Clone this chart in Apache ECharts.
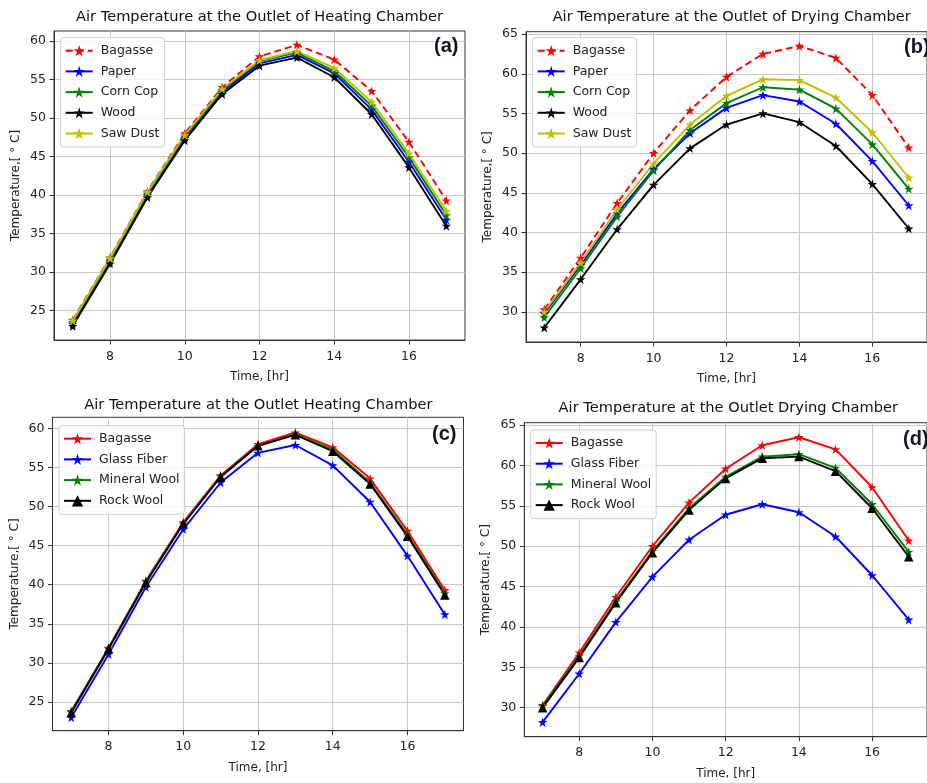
<!DOCTYPE html>
<html>
<head>
<meta charset="utf-8">
<script src="https://cdn.jsdelivr.net/npm/echarts@6/dist/echarts.min.js"></script>
<style>
html,body{margin:0;padding:0;background:#fff;}
#main{width:927px;height:783px;}
</style>
</head>
<body>
<div id="main"></div>
<script>
// ---------- DATA ----------
const hours = [7, 8, 9, 10, 11, 12, 13, 14, 15, 16, 17];
const xTicks = [8, 10, 12, 14, 16];
const yTicksA = [25, 30, 35, 40, 45, 50, 55, 60];
const yTicksB = [30, 35, 40, 45, 50, 55, 60, 65];

// (a) heating chamber, drying materials
const aBagasse = [23.8, 31.9, 40.5, 48.0, 54.0, 58.0, 59.5, 57.6, 53.5, 46.9, 39.3];
const aPaper   = [23.3, 31.4, 40.0, 47.4, 53.4, 57.1, 58.2, 55.8, 51.1, 44.3, 36.8];
const aCornCop = [23.5, 31.6, 40.2, 47.6, 53.6, 57.4, 58.5, 56.1, 51.6, 44.9, 37.4];
const aWood    = [23.0, 31.1, 39.7, 47.1, 53.1, 56.8, 57.85, 55.3, 50.5, 43.6, 36.0];
const aSawDust = [23.7, 31.8, 40.4, 47.8, 53.8, 57.5, 58.7, 56.5, 52.1, 45.4, 37.9];

// (b) drying chamber, drying materials
const bBagasse = [30.3, 36.8, 43.7, 50.0, 55.4, 59.6, 62.5, 63.5, 62.0, 57.3, 50.7];
const bPaper   = [29.8, 35.9, 42.4, 48.0, 52.5, 55.7, 57.3, 56.5, 53.7, 49.0, 43.4];
const bCornCop = [29.3, 35.5, 42.0, 47.8, 52.9, 56.3, 58.3, 58.0, 55.6, 51.1, 45.5];
const bWood    = [28.0, 34.1, 40.4, 46.0, 50.6, 53.6, 55.0, 53.9, 50.9, 46.1, 40.5];
const bSawDust = [30.0, 36.2, 42.9, 48.7, 53.6, 57.2, 59.3, 59.2, 57.0, 52.6, 46.9];

// (c) heating chamber, insulation materials
const cBagasse    = [23.8, 31.9, 40.5, 48.0, 54.0, 58.0, 59.5, 57.6, 53.6, 46.9, 39.3];
const cGlassFiber = [23.0, 31.1, 39.7, 47.1, 53.1, 56.9, 57.9, 55.3, 50.6, 43.7, 36.2];
const cMineral    = [23.7, 31.8, 40.4, 47.8, 53.9, 57.8, 59.3, 57.3, 53.1, 46.4, 38.9];
const cRockWool   = [23.6, 31.8, 40.3, 47.8, 53.8, 57.8, 59.2, 57.1, 52.9, 46.2, 38.7];

// (d) drying chamber, insulation materials
const dBagasse    = [30.3, 36.8, 43.7, 50.0, 55.4, 59.6, 62.5, 63.5, 62.0, 57.3, 50.7];
const dGlassFiber = [28.2, 34.2, 40.6, 46.2, 50.8, 53.9, 55.2, 54.2, 51.2, 46.4, 40.9];
const dMineral    = [30.2, 36.4, 43.2, 49.4, 54.7, 58.6, 61.1, 61.4, 59.7, 55.2, 49.3];
const dRockWool   = [30.0, 36.2, 43.0, 49.2, 54.5, 58.4, 60.9, 61.1, 59.3, 54.7, 48.7];

const titles = [
  'Air Temperature at the Outlet of Heating Chamber',
  'Air Temperature at the Outlet of Drying Chamber',
  'Air Temperature at the Outlet Heating Chamber',
  'Air Temperature at the Outlet Drying Chamber'
];
const panelTags = ['(a)', '(b)', '(c)', '(d)'];

// ---------- STYLE / LAYOUT ----------
const FONT = 'DejaVu Sans';
const STAR = 'path://M50,0 L61.2,34.5 L97.6,34.5 L68.2,55.9 L79.4,90.5 L50,69.1 L20.6,90.5 L31.8,55.9 L2.4,34.5 L38.8,34.5 Z';
const C = {red:'#ff0000', blue:'#0000ff', green:'#008000', black:'#000000', yellow:'#bfbf00'};

const grids = [
  {left: 54, top: 31, width: 411, height: 309},
  {left: 526, top: 31.7, width: 411, height: 310.3},
  {left: 52.5, top: 417.3, width: 411, height: 313.4},
  {left: 524.3, top: 422.7, width: 409, height: 314}
];
const yRanges = [[21.2, 61.3], [26.2, 65.3], [21.3, 61.45], [26.4, 65.3]];
const yTickSets = [yTicksA, yTicksB, yTicksA, yTicksB];

function pairs(vals) { return hours.map((h, i) => [h, vals[i]]); }

const xAxes = grids.map((g, i) => ({
  type: 'value', gridIndex: i, min: 6.5, max: 17.5,
  name: 'Time, [hr]', nameLocation: 'middle', nameGap: 31,
  nameTextStyle: {fontFamily: FONT, fontSize: 12, color: '#222'},
  axisLine: {show: true, onZero: false, lineStyle: {color: '#333', width: 1}},
  axisTick: {show: true, inside: false, length: 4.5, customValues: xTicks, lineStyle: {color: '#333'}},
  axisLabel: {customValues: xTicks, margin: 10, fontFamily: FONT, fontSize: 12.5, color: '#222'},
  splitLine: {show: true, lineStyle: {color: '#c8c8c8', width: 1}}
}));
const yAxes = grids.map((g, i) => ({
  type: 'value', gridIndex: i, min: yRanges[i][0], max: yRanges[i][1],
  name: 'Temperature,[ ° C]', nameLocation: 'middle', nameGap: 32, nameRotate: 90,
  nameTextStyle: {fontFamily: FONT, fontSize: 12, color: '#222'},
  axisLine: {show: true, lineStyle: {color: '#333', width: 1}},
  axisTick: {show: true, inside: false, length: 4.5, customValues: yTickSets[i], lineStyle: {color: '#333'}},
  axisLabel: {customValues: yTickSets[i], margin: 8, fontFamily: FONT, fontSize: 12.5, color: '#222'},
  splitLine: {show: true, lineStyle: {color: '#c8c8c8', width: 1}}
}));

function line(name, data, grid, color, opts) {
  opts = opts || {};
  return {
    type: 'line', name: name, xAxisIndex: grid, yAxisIndex: grid,
    data: pairs(data),
    symbol: opts.symbol || STAR, symbolSize: opts.symbolSize || 9.5,
    showAllSymbol: true, animation: false,
    lineStyle: {color: color, width: 1.9, type: opts.dashed ? [7, 4] : 'solid'},
    itemStyle: {color: color, borderWidth: 0},
    emphasis: {disabled: true}
  };
}

const series = [
  line('Bagasse#a', aBagasse, 0, C.red, {dashed: true}),
  line('Paper#a', aPaper, 0, C.blue),
  line('Corn Cop#a', aCornCop, 0, C.green),
  line('Wood#a', aWood, 0, C.black),
  line('Saw Dust#a', aSawDust, 0, C.yellow),

  line('Bagasse#b', bBagasse, 1, C.red, {dashed: true}),
  line('Paper#b', bPaper, 1, C.blue),
  line('Corn Cop#b', bCornCop, 1, C.green),
  line('Wood#b', bWood, 1, C.black),
  line('Saw Dust#b', bSawDust, 1, C.yellow),

  line('Bagasse#c', cBagasse, 2, C.red),
  line('Glass Fiber#c', cGlassFiber, 2, C.blue),
  line('Mineral Wool#c', cMineral, 2, C.green),
  line('Rock Wool#c', cRockWool, 2, C.black, {symbol: 'triangle', symbolSize: 9.5}),

  line('Bagasse#d', dBagasse, 3, C.red),
  line('Glass Fiber#d', dGlassFiber, 3, C.blue),
  line('Mineral Wool#d', dMineral, 3, C.green),
  line('Rock Wool#d', dRockWool, 3, C.black, {symbol: 'triangle', symbolSize: 9.5})
];

const legendPos = [
  {left: 60.7, top: 37.7},
  {left: 532.7, top: 37.7},
  {left: 59, top: 425.7},
  {left: 530.7, top: 430}
];
const legends = legendPos.map((p, i) => ({
  left: p.left, top: p.top, orient: 'vertical',
  data: series.filter(s => s.xAxisIndex === i).map(s => s.name),
  formatter: n => n.replace(/#.*$/, ''),
  itemWidth: 27, itemHeight: 14, itemGap: 7.7,
  padding: [6.5, 5, 7, 4],
  backgroundColor: 'rgba(255,255,255,0.85)', borderColor: '#d0d0d0', borderWidth: 1, borderRadius: 3,
  textStyle: {fontFamily: FONT, fontSize: 12.5, color: '#222', padding: [0, 0, 0, 3]},
  selectedMode: false, inactiveColor: '#ccc'
}));

const titleCenters = [[259.5, 9.5], [731.7, 9.5], [258.3, 397.5], [728.3, 401]];
const titleObjs = titles.map((t, i) => ({
  text: t, left: titleCenters[i][0], top: titleCenters[i][1], textAlign: 'center',
  textStyle: {fontFamily: FONT, fontSize: 14.6, fontWeight: 'normal', color: '#111'},
  padding: 0
}));

const tagPos = [[434, 36], [904, 37], [432, 424], [903, 429]];
const graphics = panelTags.map((t, i) => ({
  type: 'text', left: tagPos[i][0], top: tagPos[i][1], z: 100,
  style: {text: t, font: 'bold 20px "Liberation Sans", Arial, sans-serif', fill: '#141428'}
}));

const chart = echarts.init(document.getElementById('main'), null, {renderer: 'canvas'});
chart.setOption({
  animation: false,
  backgroundColor: '#fff',
  title: titleObjs,
  grid: grids.map(g => Object.assign({show: true, borderColor: '#333', borderWidth: 1, backgroundColor: 'transparent', containLabel: false}, g)),
  xAxis: xAxes,
  yAxis: yAxes,
  legend: legends,
  series: series,
  graphic: graphics
});
</script>
</body>
</html>
